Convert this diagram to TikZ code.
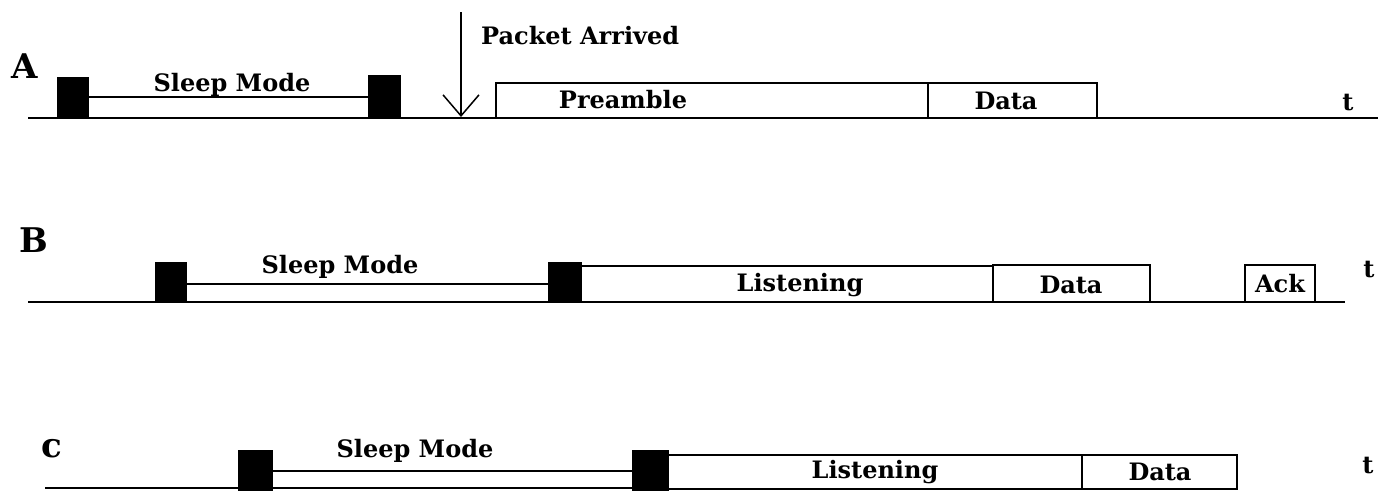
\documentclass[tikz,border=0pt]{standalone}
\usepackage{fontspec}
\setmainfont{DejaVu Serif}
\usetikzlibrary{arrows.meta}
\tikzset{
  blk/.style={fill=black, draw=black, inner sep=0pt, outer sep=0pt, anchor=south west},
  seg/.style={draw=black, line width=2pt, fill=white, inner sep=0pt, outer sep=0pt, anchor=south west},
  lbl/.style={inner sep=0pt, font=\bfseries\fontsize{24}{24}\selectfont},
  big/.style={inner sep=0pt, font=\bfseries\fontsize{34}{34}\selectfont},
  axis/.style={line width=2pt},
  sleep/.style={line width=2pt}
}
\begin{document}
\begin{tikzpicture}[x=1pt,y=-1pt]
\useasboundingbox (0,0) rectangle (1394,490);
% ---------- Row A ----------
\coordinate (a0) at (28,118);
\coordinate (a1) at (1378,118);
\draw[axis] (a0) -- (a1);
\node[blk, minimum width=31pt, minimum height=41pt] (A1) at (57,118) {};
\node[blk, minimum width=32pt, minimum height=43pt] (A2) at (368,118) {};
\draw[sleep] (A1.east |- 0,97) -- (A2.west |- 0,97);
\node[seg, minimum width=432pt, minimum height=35pt] (Apre) at (496,118) {};
\node[seg, minimum width=169pt, minimum height=35pt] (Adata) at (928,118) {};
\node[big] (la) at (25,66) {A};
\node[lbl] (sa) at (232,85) {Sleep Mode};
\node[lbl] (pre) at (623,100) {Preamble};
\node[lbl] (da) at (1006,101) {Data};
\node[lbl] (ta) at (1348,103) {t};
\coordinate (arTop) at (461,12);
\coordinate (arBot) at (461,117);
\draw[line width=1.5pt, -{Straight Barb[length=21pt,width=36pt,line width=1.5pt]}] (arTop) -- (arBot);
\node[lbl, anchor=west] (pk) at (481,36) {Packet Arrived};
% ---------- Row B ----------
\coordinate (b0) at (28,302);
\coordinate (b1) at (1345,302);
\draw[axis] (b0) -- (b1);
\node[blk, minimum width=31pt, minimum height=40pt] (B1) at (155,302) {};
\node[blk, minimum width=33pt, minimum height=40pt] (B2) at (548,302) {};
\draw[sleep] (B1.east |- 0,284) -- (B2.west |- 0,284);
\node[seg, minimum width=412pt, minimum height=36pt] (Blis) at (581,302) {};
\node[seg, minimum width=157pt, minimum height=37pt] (Bdata) at (993,302) {};
\node[seg, minimum width=70pt, minimum height=37pt] (Back) at (1245,302) {};
\node[big] (lb) at (34,240) {B};
\node[lbl] (sb) at (340,267) {Sleep Mode};
\node[lbl] (lib) at (800,285) {Listening};
\node[lbl] (db) at (1071,285) {Data};
\node[lbl] (ab) at (1280,284) {Ack};
\node[lbl] (tb) at (1369,270) {t};
% ---------- Row C ----------
\coordinate (c0) at (45,488);
\coordinate (c1) at (1237,488);
\draw[axis] (c0) -- (c1);
\node[blk, minimum width=34pt, minimum height=40pt] (C1) at (238,490) {};
\node[blk, minimum width=36pt, minimum height=40pt] (C2) at (632,490) {};
\draw[sleep] (C1.east |- 0,471) -- (C2.west |- 0,471);
\node[seg, minimum width=414pt, minimum height=34pt] (Clis) at (668,489) {};
\node[seg, minimum width=155pt, minimum height=34pt] (Cdata) at (1082,489) {};
\node[big, anchor=base] (lc) at (52,457) {c};
\node[lbl] (sc) at (415,451) {Sleep Mode};
\node[lbl] (lic) at (875,472) {Listening};
\node[lbl] (dc) at (1160,472) {Data};
\node[lbl] (tc) at (1368,466) {t};
\end{tikzpicture}
\end{document}
